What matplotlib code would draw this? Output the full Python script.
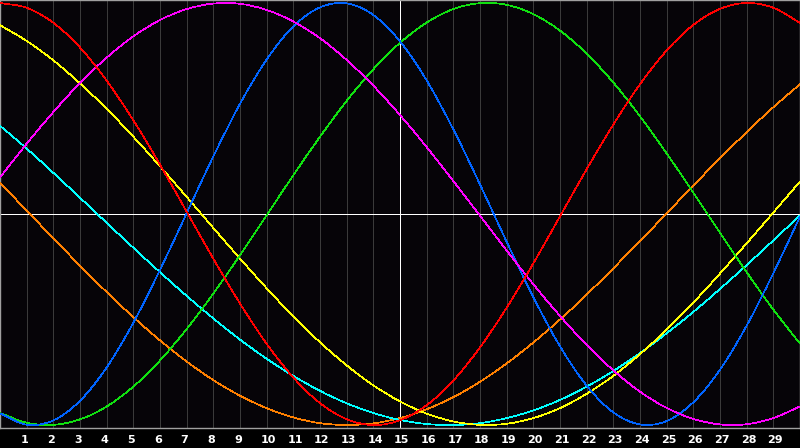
import matplotlib
matplotlib.use("Agg")
import matplotlib.pyplot as plt
from matplotlib.path import Path
from matplotlib.patches import PathPatch
from matplotlib.transforms import ScaledTranslation

# ---- data ----
x_values = [0, 1, 2, 3, 4, 5, 6, 7, 8, 9, 10, 11, 12, 13, 14, 15,
            16, 17, 18, 19, 20, 21, 22, 23, 24, 25, 26, 27, 28, 29, 30]

orange = [0.148, 0.016, -0.115, -0.245, -0.370, -0.489, -0.599, -0.699, -0.787, -0.861,
          -0.920, -0.964, -0.991, -1.000, -0.992, -0.967, -0.925, -0.868, -0.795, -0.708,
          -0.609, -0.500, -0.382, -0.257, -0.128, 0.003, 0.135, 0.264, 0.388, 0.506, 0.615]

cyan = [0.418, 0.310, 0.195, 0.077, -0.042, -0.160, -0.276, -0.388, -0.495, -0.595,
        -0.686, -0.767, -0.838, -0.897, -0.943, -0.976, -0.995, -1.000, -0.991, -0.967,
        -0.931, -0.881, -0.818, -0.744, -0.659, -0.565, -0.464, -0.355, -0.242, -0.125, -0.006]

yellow = [0.895, 0.820, 0.728, 0.619, 0.498, 0.366, 0.226, 0.081, -0.066, -0.211,
          -0.352, -0.485, -0.608, -0.717, -0.812, -0.888, -0.946, -0.983, -0.999, -0.994,
          -0.967, -0.920, -0.852, -0.767, -0.664, -0.548, -0.420, -0.282, -0.139, 0.007, 0.154]

green = [-0.943, -0.989, -0.999, -0.973, -0.912, -0.818, -0.694, -0.545, -0.377, -0.195,
         -0.006, 0.184, 0.366, 0.536, 0.686, 0.811, 0.907, 0.971, 0.999, 0.991,
         0.947, 0.869, 0.760, 0.623, 0.463, 0.287, 0.101, -0.089, -0.276, -0.453, -0.614]

blue = [-0.945, -0.998, -0.978, -0.885, -0.727, -0.515, -0.265, 0.004, 0.273, 0.522,
        0.732, 0.889, 0.979, 0.998, 0.943, 0.818, 0.633, 0.401, 0.140, -0.132,
        -0.394, -0.627, -0.813, -0.940, -0.997, -0.981, -0.892, -0.738, -0.529, -0.281, -0.012]

magenta = [0.173, 0.333, 0.483, 0.621, 0.741, 0.842, 0.919, 0.971, 0.997, 0.996,
           0.967, 0.912, 0.833, 0.730, 0.608, 0.469, 0.317, 0.156, -0.008, -0.173,
           -0.333, -0.483, -0.621, -0.741, -0.842, -0.919, -0.971, -0.997, -0.996, -0.967, -0.912]

red = [1.000, 0.977, 0.906, 0.789, 0.632, 0.444, 0.234, 0.011, -0.212, -0.424,
       -0.615, -0.775, -0.896, -0.972, -1.000, -0.977, -0.906, -0.789, -0.632, -0.444,
       -0.234, -0.011, 0.212, 0.424, 0.615, 0.775, 0.896, 0.972, 1.000, 0.977, 0.906]

tick_positions = [1, 2, 3, 4, 5, 6, 7, 8, 9, 10, 11, 12, 13, 14, 15,
                  16, 17, 18, 19, 20, 21, 22, 23, 24, 25, 26, 27, 28, 29]
tick_labels = ["1", "2", "3", "4", "5", "6", "7", "8", "9", "10", "11", "12",
               "13", "14", "15", "16", "17", "18", "19", "20", "21", "22",
               "23", "24", "25", "26", "27", "28", "29"]

series = [
    (orange, "#ff8000"),
    (cyan, "#00ffff"),
    (yellow, "#ffff00"),
    (green, "#10e010"),
    (blue, "#0064ff"),
    (magenta, "#ff00ff"),
    (red, "#ff0000"),
]


def smooth_path(xs, ys):
    """Smooth (Catmull-Rom style) line through the data points."""
    n = len(xs)
    px = [2 * xs[0] - xs[1]] + list(xs) + [2 * xs[-1] - xs[-2]]
    py = [2 * ys[0] - ys[1]] + list(ys) + [2 * ys[-1] - ys[-2]]
    verts = [(xs[0], ys[0])]
    codes = [Path.MOVETO]
    for i in range(1, n):
        a, b, c, d = i - 1, i, i + 1, i + 2
        c1 = (px[b] + (px[c] - px[a]) / 6.0, py[b] + (py[c] - py[a]) / 6.0)
        c2 = (px[c] - (px[d] - px[b]) / 6.0, py[c] - (py[d] - py[b]) / 6.0)
        verts += [c1, c2, (px[c], py[c])]
        codes += [Path.CURVE4, Path.CURVE4, Path.CURVE4]
    return Path(verts, codes)


fig = plt.figure(figsize=(8, 4.48), dpi=100, facecolor="#000000")
ax = fig.add_axes([0, 20 / 448, 1, 428 / 448])
ax.set_facecolor("#060408")
ax.set_xlim(0, 30)
ax.set_ylim(-1.014, 1.014)

# grid
for xv in tick_positions:
    ax.axvline(xv, color="#3a3a3a", lw=0.7, zorder=1, antialiased=False)
ax.axvline(15, color="#ffffff", lw=0.7, zorder=2, antialiased=False)
ax.axhline(0, color="#ffffff", lw=0.7, zorder=2, antialiased=False)

for vals, col in series:
    patch = PathPatch(smooth_path(x_values, vals), fill=False, edgecolor=col,
                      lw=0.5, zorder=3, antialiased=False)
    ax.add_patch(patch)

for sp in ax.spines.values():
    sp.set_color("#a0a0a0")
    sp.set_linewidth(1.0)

ax.set_yticks([])
ax.set_xticks(tick_positions)
ax.set_xticklabels(tick_labels)
ax.tick_params(axis="x", length=0, pad=5, labelsize=8, labelcolor="white")
offset = ScaledTranslation(-6 / 100, 0, fig.dpi_scale_trans)
for lab in ax.get_xticklabels():
    lab.set_fontweight("bold")
    lab.set_horizontalalignment("left")
    lab.set_transform(lab.get_transform() + offset)

fig.savefig("out.png", dpi=100, facecolor=fig.get_facecolor())
